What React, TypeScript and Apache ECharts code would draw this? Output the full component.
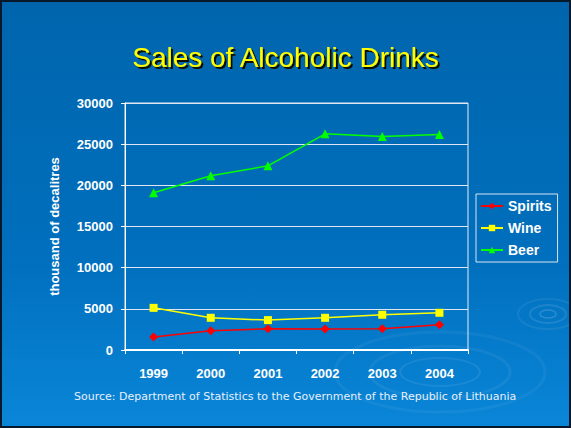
import React, { useEffect, useRef } from "react";
import * as echarts from "echarts";

const years = ["1999", "2000", "2001", "2002", "2003", "2004"];
const spirits = [1570, 2330, 2570, 2540, 2570, 3060];
const wine = [5120, 3910, 3630, 3910, 4280, 4520];
const beer = [19090, 21160, 22370, 26260, 25940, 26180];
const yTicks = { min: 0, max: 30000, interval: 5000 };
const titleText = "Sales of Alcoholic Drinks";
const sourceText = "Source: Department of Statistics to the Government of the Republic of Lithuania";

export default function App() {
  const ref = useRef<HTMLDivElement>(null);
  useEffect(() => {
    const chart = echarts.init(ref.current!, null, { renderer: "svg" });
    const font = "Liberation Sans, Arial, sans-serif";
    chart.setOption({
      animation: false,
      backgroundColor: {
        type: "linear", x: 0, y: 0, x2: 0, y2: 1,
        colorStops: [
          { offset: 0, color: "#0065ad" },
          { offset: 0.6, color: "#006fbd" },
          { offset: 1, color: "#0a86d8" },
        ],
      },
      title: {
        text: titleText,
        left: "center",
        top: 38,
        textStyle: {
          color: "#ffff00",
          fontFamily: font,
          fontWeight: "normal",
          fontSize: 28,
          textShadowColor: "#0a0a05",
          textShadowBlur: 1,
          textShadowOffsetX: 2,
          textShadowOffsetY: 2,
        },
      },
      grid: { left: 125, top: 103, right: 103, bottom: 78, show: true, borderColor: "#e8eef4", borderWidth: 1, backgroundColor: "transparent" },
      legend: {
        orient: "vertical",
        left: 476,
        top: 194,
        itemWidth: 22,
        itemHeight: 8,
        itemGap: 8,
        padding: [5, 6, 5, 4],
        borderColor: "#d8e4f0",
        borderWidth: 1,
        textStyle: { color: "#ffffff", fontWeight: "bold", fontSize: 14, fontFamily: font },
        data: ["Spirits", "Wine", "Beer"],
      },
      xAxis: {
        type: "category",
        data: years,
        boundaryGap: true,
        axisLine: { lineStyle: { color: "#ffffff", width: 2 } },
        axisTick: { show: true, length: 4, lineStyle: { color: "#ffffff" } },
        axisLabel: { color: "#ffffff", fontWeight: "bold", fontSize: 13, fontFamily: font, margin: 17 },
      },
      yAxis: {
        type: "value",
        min: yTicks.min,
        max: yTicks.max,
        interval: yTicks.interval,
        name: "thousand of decalitres",
        nameLocation: "middle",
        nameGap: 64,
        nameTextStyle: { color: "#ffffff", fontWeight: "bold", fontSize: 13, fontFamily: font },
        axisLine: { show: true, lineStyle: { color: "#ffffff", width: 1 } },
        axisTick: { show: true, length: 4, lineStyle: { color: "#ffffff" } },
        axisLabel: { color: "#ffffff", fontWeight: "bold", fontSize: 13, fontFamily: font, margin: 12, formatter: (v: number) => String(v) },
        splitLine: { lineStyle: { color: "#dfe8f2", width: 1.2 } },
      },
      series: [
        {
          name: "Spirits", type: "line", data: spirits,
          symbol: "diamond", symbolSize: 9,
          itemStyle: { color: "#ff0000" }, lineStyle: { color: "#ff0000", width: 1.5 },
        },
        {
          name: "Wine", type: "line", data: wine,
          symbol: "rect", symbolSize: 8,
          itemStyle: { color: "#ffff00" }, lineStyle: { color: "#ffff00", width: 1.5 },
        },
        {
          name: "Beer", type: "line", data: beer,
          symbol: "triangle", symbolSize: 9,
          itemStyle: { color: "#00ff00" }, lineStyle: { color: "#00ff00", width: 1.5 },
        },
      ],
      graphic: [
        { type: "ellipse", z: -1, shape: { cx: 440, cy: 372, rx: 40, ry: 14 }, style: { fill: "none", stroke: "rgba(255,255,255,0.08)", lineWidth: 2 }, silent: true },
        { type: "ellipse", z: -1, shape: { cx: 440, cy: 372, rx: 70, ry: 26 }, style: { fill: "none", stroke: "rgba(255,255,255,0.06)", lineWidth: 3 }, silent: true },
        { type: "ellipse", z: -1, shape: { cx: 440, cy: 372, rx: 105, ry: 40 }, style: { fill: "none", stroke: "rgba(255,255,255,0.05)", lineWidth: 3 }, silent: true },
        { type: "ellipse", z: -1, shape: { cx: 548, cy: 314, rx: 8, ry: 4 }, style: { fill: "none", stroke: "rgba(255,255,255,0.16)", lineWidth: 1.5 }, silent: true },
        { type: "ellipse", z: -1, shape: { cx: 548, cy: 314, rx: 18, ry: 9 }, style: { fill: "none", stroke: "rgba(255,255,255,0.10)", lineWidth: 2 }, silent: true },
        { type: "ellipse", z: -1, shape: { cx: 548, cy: 314, rx: 30, ry: 15 }, style: { fill: "none", stroke: "rgba(255,255,255,0.07)", lineWidth: 2 }, silent: true },
        {
          type: "text",
          left: 74,
          top: 391,
          style: {
            text: sourceText,
            fill: "#e6f0fa",
            fontSize: 11,
            fontFamily: "DejaVu Sans, Verdana, sans-serif",
          },
          silent: true,
        },
        {
          type: "rect",
          shape: { x: 1, y: 1, width: 569, height: 426 },
          style: { fill: "none", stroke: "#07182a", lineWidth: 2 },
          silent: true,
        },
      ],
    });
    return () => chart.dispose();
  }, []);
  return (
    <div style={{ position: "absolute", left: 0, top: 0, width: 571, height: 428 }}>
      <div ref={ref} style={{ width: 571, height: 428 }} />
    </div>
  );
}
